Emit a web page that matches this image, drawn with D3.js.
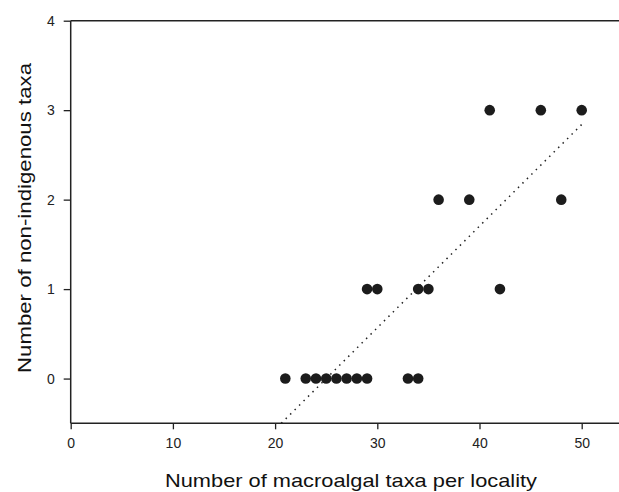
<!DOCTYPE html>
<html><head><meta charset="utf-8">
<script src="https://cdn.jsdelivr.net/npm/d3@7"></script>
<style>body{margin:0;background:#fff;}svg{display:block;}</style>
</head><body>
<script>
const xTicks = [0, 10, 20, 30, 40, 50];
const yTicks = [0, 1, 2, 3, 4];
const taxaX = [21, 23, 24, 25, 26, 27, 28, 29, 33, 34, 29, 30, 34, 35, 42, 36, 39, 48, 41, 46, 50];
const nisY  = [0, 0, 0, 0, 0, 0, 0, 0, 0, 0, 1, 1, 1, 1, 1, 2, 2, 2, 3, 3, 3];
const trendX = [20.6, 50];
const trendY = [-0.5, 2.84];

const W = 619, H = 492;
const svg = d3.select("body").append("svg").attr("width", W).attr("height", H);
const x = d3.scaleLinear().domain([0, 50]).range([70.7, 581.7]);
const y = d3.scaleLinear().domain([-0.5, 4]).range([423.3, 20.7]);
const font = "Liberation Sans, Arial, sans-serif";
const axisCol = "#222";

// axes
const gx = svg.append("g").attr("transform", `translate(0,${y(-0.5)})`)
  .call(d3.axisBottom(x).tickValues(xTicks).tickSize(6).tickPadding(9).tickFormat(d3.format("d")));
const gy = svg.append("g").attr("transform", `translate(${x(0)},0)`)
  .call(d3.axisLeft(y).tickValues(yTicks).tickSize(7).tickPadding(9).tickFormat(d3.format("d")));
[gx, gy].forEach(g => {
  g.select(".domain").remove();
  g.selectAll(".tick line").attr("stroke", axisCol).attr("stroke-width", 1.3);
  g.selectAll(".tick text").attr("fill", "#222").style("font-family", font).style("font-size", "14px");
});
// axis lines
svg.append("line").attr("x1", x(0)).attr("x2", W).attr("y1", y(-0.5)).attr("y2", y(-0.5))
  .attr("stroke", axisCol).attr("stroke-width", 1.5);
svg.append("line").attr("x1", x(0)).attr("x2", x(0)).attr("y1", y(4)).attr("y2", y(-0.5))
  .attr("stroke", axisCol).attr("stroke-width", 1.5);
svg.append("line").attr("x1", x(0)).attr("x2", W).attr("y1", y(4)).attr("y2", y(4))
  .attr("stroke", axisCol).attr("stroke-width", 1.5);

// trend line
svg.append("line")
  .attr("x1", x(trendX[0])).attr("y1", y(trendY[0]))
  .attr("x2", x(trendX[1])).attr("y2", y(trendY[1]))
  .attr("stroke", "#222").attr("stroke-width", 1.5).attr("stroke-dasharray", "1.5,4.8");

// points
svg.append("g").selectAll("circle").data(taxaX).join("circle")
  .attr("cx", d => x(d)).attr("cy", (d, i) => y(nisY[i])).attr("r", 5.3).attr("fill", "#1c1c1c");

// titles
svg.append("text").attr("x", 351).attr("y", 487).attr("text-anchor", "middle")
  .attr("textLength", 372).attr("lengthAdjust", "spacingAndGlyphs")
  .style("font-family", font).style("font-size", "19px").attr("fill", "#111")
  .text("Number of macroalgal taxa per locality");
svg.append("text").attr("transform", `translate(31,218) rotate(-90)`).attr("text-anchor", "middle")
  .attr("textLength", 310).attr("lengthAdjust", "spacingAndGlyphs")
  .style("font-family", font).style("font-size", "19px").attr("fill", "#111")
  .text("Number of non-indigenous taxa");
</script>
</body></html>
